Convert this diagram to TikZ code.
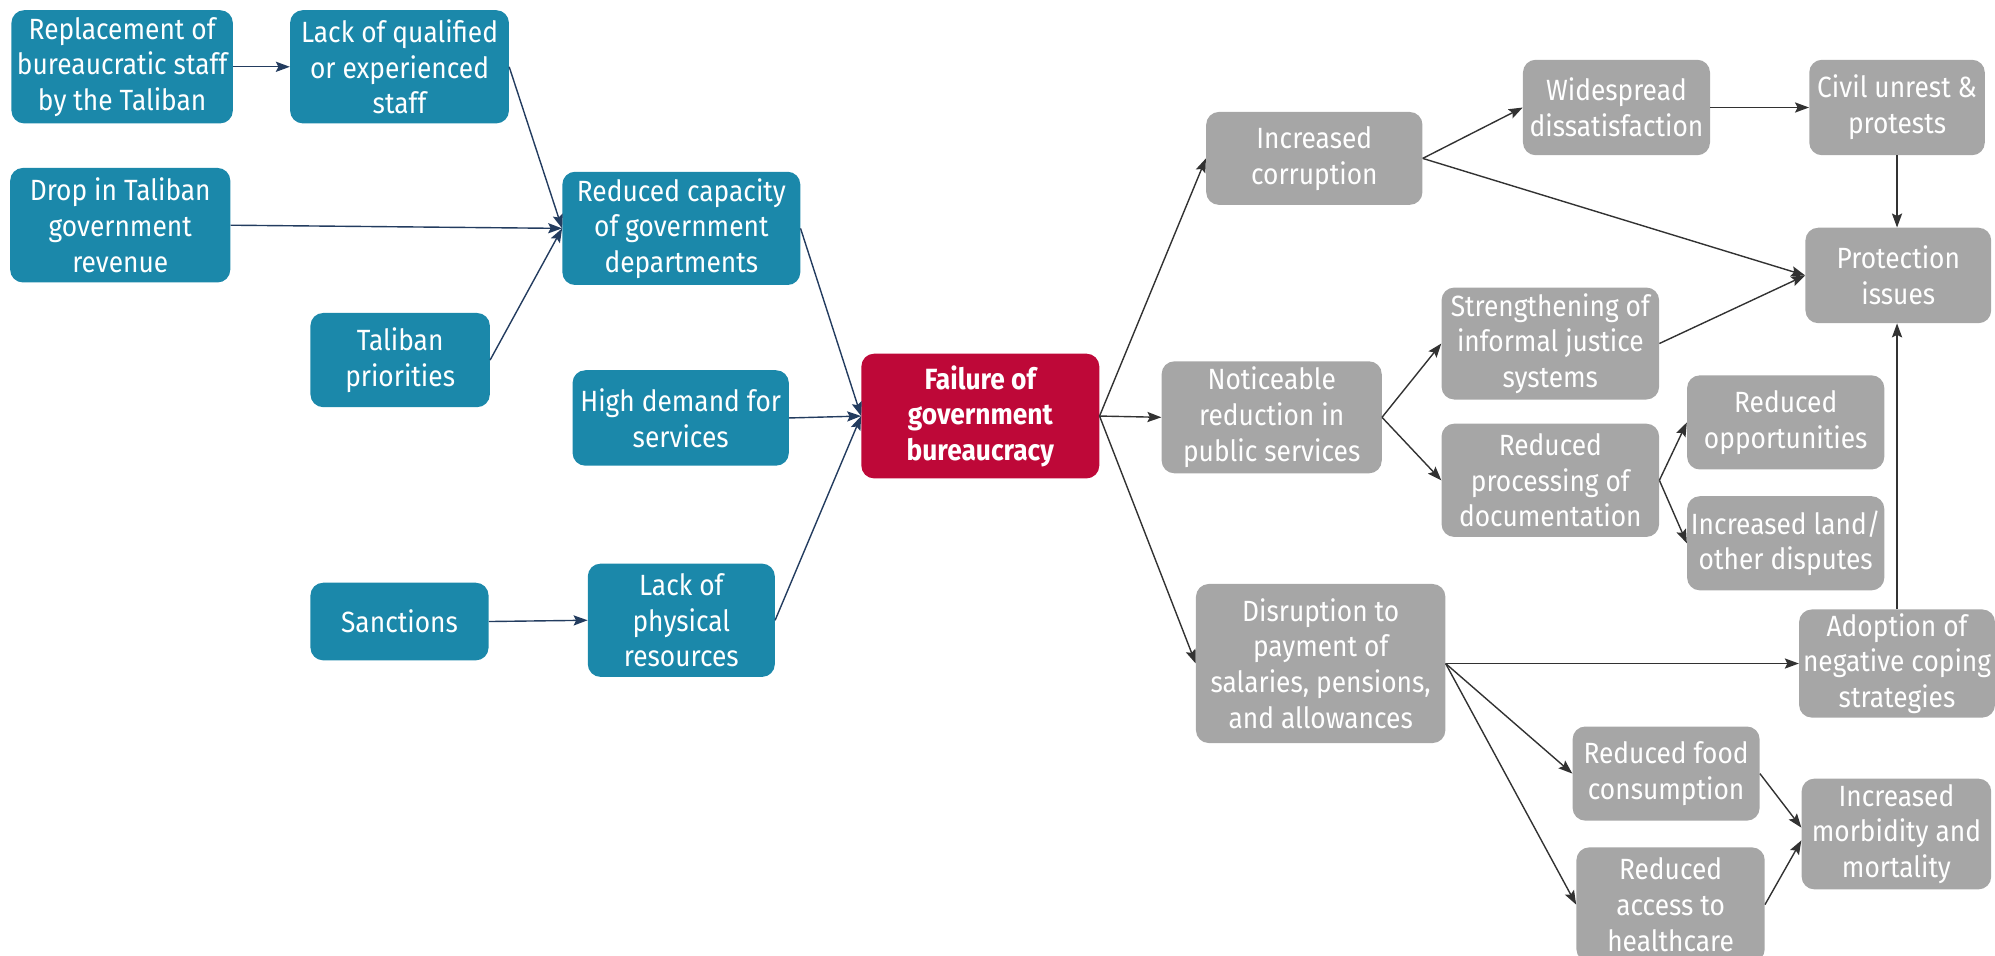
\documentclass[tikz,border=0pt]{standalone}
\usepackage{fontspec}
\setmainfont[FakeStretch=0.9]{Fira Sans}
\usetikzlibrary{arrows.meta}
\definecolor{bluebox}{RGB}{27,136,170}
\definecolor{redbox}{RGB}{190,8,56}
\definecolor{graybox}{RGB}{166,166,166}
\definecolor{navyline}{RGB}{35,60,95}
\definecolor{grayline}{RGB}{50,50,50}
\tikzset{
  boxbase/.style={rounded corners=10pt, inner sep=0pt, align=center, text=white,
    font=\fontsize{23}{28}\selectfont},
  bluenode/.style={boxbase, fill=bluebox},
  rednode/.style={boxbase, fill=redbox, font=\fontsize{23}{28}\selectfont\bfseries},
  graynode/.style={boxbase, fill=graybox},
  bluearrow/.style={draw=navyline, line width=1.1pt, -{Stealth[length=11pt,width=8pt,inset=2pt]}},
  grayarrow/.style={draw=grayline, line width=1.1pt, -{Stealth[length=11pt,width=8pt,inset=2pt]}}
}
\newcommand{\bx}[7]{\node[#6, minimum width={#4-#2}, minimum height={#5-#3}] (#1) at ({(#2+#4)/2},{(#3+#5)/2}) {#7};}
\begin{document}
\begin{tikzpicture}[x=1pt,y=-1pt]
\useasboundingbox (0,0) rectangle (1568,751);
% left, blue
\bx{rep}{9}{8}{183}{97}{bluenode}{Replacement of\\bureaucratic staff\\by the Taliban}
\bx{lqs}{228}{8}{400}{97}{bluenode}{Lack of qualified\\or experienced\\staff}
\bx{drop}{8}{132}{181}{222}{bluenode}{Drop in Taliban\\government\\revenue}
\bx{rcap}{442}{135}{629}{224}{bluenode}{Reduced capacity\\of government\\departments}
\bx{tpri}{244}{246}{385}{320}{bluenode}{Taliban\\priorities}
\bx{hdem}{450}{291}{620}{366}{bluenode}{High demand for\\services}
\bx{sanc}{244}{458}{384}{519}{bluenode}{Sanctions}
\bx{lphy}{462}{443}{609}{532}{bluenode}{Lack of\\physical\\resources}
\bx{fail}{677}{278}{864}{376}{rednode}{Failure of\\government\\bureaucracy}
% right, gray
\bx{corr}{948}{88}{1118}{161}{graynode}{Increased\\corruption}
\bx{wide}{1197}{47}{1344}{122}{graynode}{Widespread\\dissatisfaction}
\bx{civil}{1422}{47}{1560}{122}{graynode}{Civil unrest \&\\protests}
\bx{prot}{1419}{179}{1565}{254}{graynode}{Protection\\issues}
\bx{stren}{1133}{226}{1304}{314}{graynode}{Strengthening of\\informal justice\\systems}
\bx{notic}{913}{284}{1086}{372}{graynode}{Noticeable\\reduction in\\public services}
\bx{rproc}{1133}{333}{1304}{422}{graynode}{Reduced\\processing of\\documentation}
\bx{ropp}{1326}{295}{1481}{369}{graynode}{Reduced\\opportunities}
\bx{land}{1326}{390}{1481}{464}{graynode}{Increased land/\\other disputes}
\bx{disr}{940}{459}{1136}{584}{graynode}{Disruption to\\payment of\\salaries, pensions,\\and allowances}
\bx{adop}{1414}{479}{1568}{564}{graynode}{Adoption of\\negative coping\\strategies}
\bx{food}{1236}{571}{1383}{645}{graynode}{Reduced food\\consumption}
\bx{acc}{1239}{666}{1387}{756}{graynode}{Reduced\\access to\\healthcare}
\bx{morb}{1416}{612}{1565}{699}{graynode}{Increased\\morbidity and\\mortality}
% blue connectors
\draw[bluearrow] (rep.east) -- (lqs.west);
\draw[bluearrow] (lqs.east) -- (rcap.west);
\draw[bluearrow] (drop.east) -- (rcap.west);
\draw[bluearrow] (tpri.east) -- (rcap.west);
\draw[bluearrow] (sanc.east) -- (lphy.west);
\draw[bluearrow] (rcap.east) -- (fail.west);
\draw[bluearrow] (hdem.east) -- (fail.west);
\draw[bluearrow] (lphy.east) -- (fail.west);
% gray connectors
\draw[grayarrow] (fail.east) -- (corr.west);
\draw[grayarrow] (fail.east) -- (notic.west);
\draw[grayarrow] (fail.east) -- (disr.west);
\draw[grayarrow] (corr.east) -- (wide.west);
\draw[grayarrow] (corr.east) -- (prot.west);
\draw[grayarrow] (wide.east) -- (civil.west);
\draw[grayarrow] (civil.south) -- (civil.south |- prot.north);
\draw[grayarrow] (stren.east) -- (prot.west);
\draw[grayarrow] (notic.east) -- (stren.west);
\draw[grayarrow] (notic.east) -- (rproc.west);
\draw[grayarrow] (rproc.east) -- (ropp.west);
\draw[grayarrow] (rproc.east) -- (land.west);
\draw[grayarrow] (adop.north) -- (adop.north |- prot.south);
\draw[grayarrow] (disr.east) -- (adop.west);
\draw[grayarrow] (disr.east) -- (food.west);
\draw[grayarrow] (disr.east) -- (acc.west);
\draw[grayarrow] (food.east) -- ([yshift=5pt]morb.west);
\draw[grayarrow] (acc.east) -- ([yshift=-5pt]morb.west);
\end{tikzpicture}
\end{document}
